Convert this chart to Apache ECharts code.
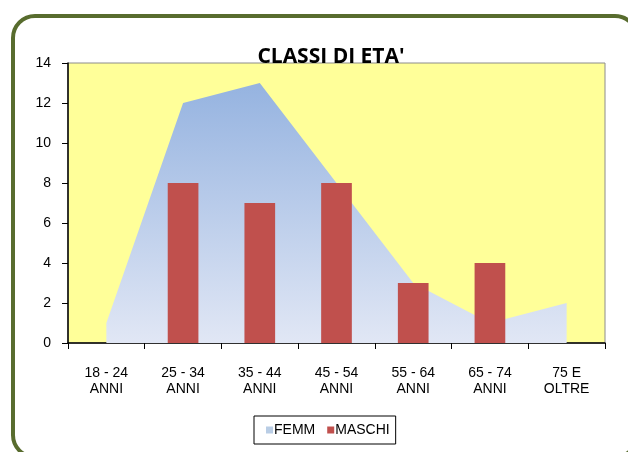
<!DOCTYPE html>
<html>
<head>
<meta charset="utf-8">
<script src="https://cdn.jsdelivr.net/npm/echarts@6/dist/echarts.min.js"></script>
<style>
  html, body { margin: 0; padding: 0; background: #fff; }
  #chart { width: 628px; height: 452px; }
</style>
</head>
<body>
<div id="chart"></div>
<script>
const categories = ['18 - 24\nANNI', '25 - 34\nANNI', '35 - 44\nANNI', '45 - 54\nANNI', '55 - 64\nANNI', '65 - 74\nANNI', '75 E\nOLTRE'];
const femm = [1, 12, 13, 8, 3, 1, 2];
const maschi = [0, 8, 7, 8, 3, 4, 0];
const yTicks = { min: 0, max: 14, interval: 2 };

const chart = echarts.init(document.getElementById('chart'));

const axisFont = { fontFamily: 'Liberation Sans', fontSize: 14, color: '#000' };

chart.setOption({
    animation: false,
    graphic: [
        {
            // cornice arrotondata, tagliata a destra e in basso
            type: 'rect',
            shape: { x: 13, y: 16, width: 624, height: 441, r: 22 },
            style: { fill: 'none', stroke: '#586c2e', lineWidth: 4 },
            z: 0
        }
    ],
    title: {
        text: "CLASSI DI ETA'",
        left: 326,
        textAlign: 'center',
        top: 42,
        textStyle: { fontFamily: 'Open Sans', fontWeight: 'bold', fontSize: 21, color: '#000', letterSpacing: 0.6 },
        z: 10
    },
    legend: {
        top: 416,
        left: 254,
        data: ['FEMM', 'MASCHI'],
        icon: 'rect',
        itemWidth: 7,
        itemHeight: 7,
        itemGap: 12,
        padding: [7, 6, 7, 12],
        borderColor: '#000',
        borderWidth: 1,
        textStyle: { fontFamily: 'Liberation Sans', fontSize: 14, color: '#000', padding: [0, 0, 0, -4] }
    },
    grid: {
        left: 68,
        right: 23,
        top: 63,
        bottom: 109,
        show: true,
        backgroundColor: '#ffff99',
        borderColor: '#8c8c8c',
        borderWidth: 1
    },
    xAxis: {
        type: 'category',
        data: categories,
        boundaryGap: true,
        axisLine: { lineStyle: { color: '#000', width: 1.5 } },
        axisTick: { show: true, interval: 0, length: 6, lineStyle: { color: '#000' } },
        axisLabel: Object.assign({ interval: 0, margin: 22, lineHeight: 16 }, axisFont),
        splitLine: { show: false }
    },
    yAxis: {
        type: 'value',
        min: yTicks.min,
        max: yTicks.max,
        interval: yTicks.interval,
        axisLine: { show: true, lineStyle: { color: '#000', width: 1.5 } },
        axisTick: { show: true, length: 6, lineStyle: { color: '#000' } },
        axisLabel: Object.assign({ margin: 17 }, axisFont),
        splitLine: { show: false }
    },
    series: [
        {
            name: 'FEMM',
            type: 'line',
            data: femm,
            symbol: 'none',
            color: '#b9cde5',
            lineStyle: { width: 0 },
            areaStyle: {
                opacity: 1,
                color: new echarts.graphic.LinearGradient(0, 0, 0, 1, [
                    { offset: 0, color: '#95b3e0' },
                    { offset: 1, color: '#e1e7f5' }
                ])
            },
            z: 2
        },
        {
            name: 'MASCHI',
            type: 'bar',
            data: maschi,
            barWidth: '40%',
            color: '#c0504d',
            itemStyle: { borderWidth: 0 },
            z: 3
        }
    ]
});
</script>
</body>
</html>
